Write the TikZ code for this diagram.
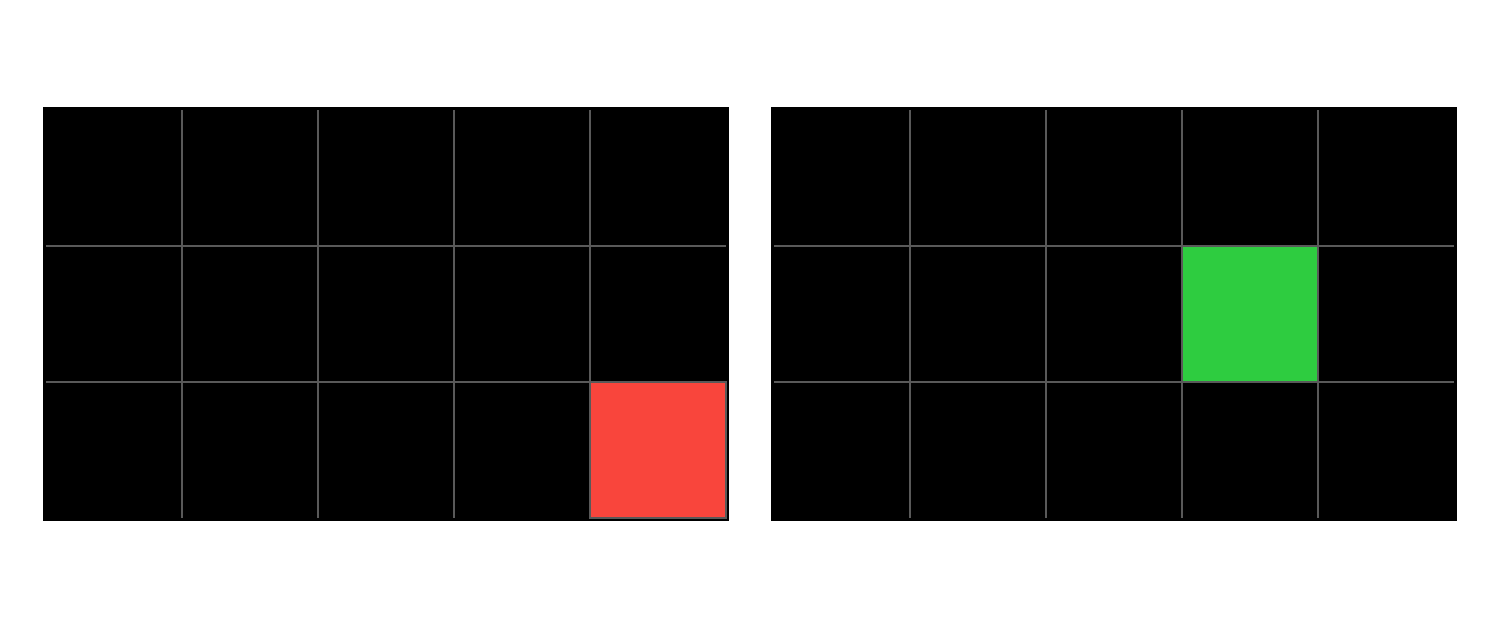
\documentclass[tikz,border=0pt]{standalone}
\definecolor{gridgray}{HTML}{595959}
\definecolor{cellred}{HTML}{F9453C}
\definecolor{cellgreen}{HTML}{2ECC40}
\tikzset{
  panel/.style={fill=black, draw=none},
  gridline/.style={draw=gridgray, line width=2pt},
}
\begin{document}
\begin{tikzpicture}[x=1pt,y=-1pt]
\useasboundingbox[fill=white] (0,0) rectangle (1500,629);
% left panel
\fill[panel] (43,107) rectangle (729,521);
\fill[cellred] (590,382) rectangle (726,518);
\foreach \x in {182,318,454,590} \draw[gridline] (\x,110) -- (\x,518);
\foreach \y in {246,382} \draw[gridline] (46,\y) -- (726,\y);
\draw[gridline] (590,382) rectangle (726,518);
% right panel
\fill[panel] (771,107) rectangle (1457,521);
\fill[cellgreen] (1182,246) rectangle (1318,382);
\foreach \x in {910,1046,1182,1318} \draw[gridline] (\x,110) -- (\x,518);
\foreach \y in {246,382} \draw[gridline] (774,\y) -- (1454,\y);
\draw[gridline] (1182,246) rectangle (1318,382);
\end{tikzpicture}
\end{document}
